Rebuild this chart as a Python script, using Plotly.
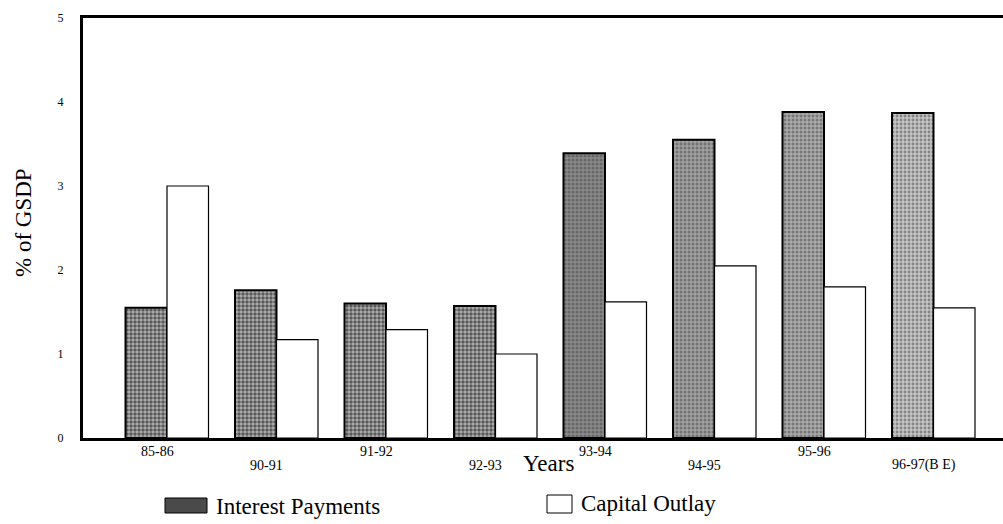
import plotly.graph_objects as go

# Interest payments and capital outlay as a share of GSDP
years = ["85-86", "90-91", "91-92", "92-93", "93-94", "94-95", "95-96", "96-97(B E)"]
interest_payments = [1.55, 1.76, 1.60, 1.57, 3.39, 3.55, 3.88, 3.87]
capital_outlay = [3.00, 1.17, 1.29, 1.00, 1.62, 2.05, 1.80, 1.55]
y_ticks = [0, 1, 2, 3, 4, 5]

# shading of the interest bars (darker for the earlier years)
interest_bg = ["#505050", "#505050", "#505050", "#505050", "#8a8a8a", "#a0a0a0", "#aaaaaa", "#c4c4c4"]
interest_fg = ["#0c0c0c", "#0c0c0c", "#0c0c0c", "#0c0c0c", "#262626", "#363636", "#444444", "#6c6c6c"]
interest_solidity = [0.6, 0.6, 0.6, 0.6, 0.5, 0.45, 0.45, 0.4]

SERIF = "Liberation Serif, Times New Roman, serif"
W, H = 1003, 524
L, R, T, B = 83, 0, 18, 86
PW, PH = W - L - R, H - T - B

xs = list(range(len(years)))

fig = go.Figure()
fig.add_trace(go.Bar(
    x=xs, y=interest_payments, name="Interest Payments",
    marker=dict(
        color=interest_bg,
        line=dict(color="black", width=2),
        pattern=dict(shape=".", bgcolor=interest_bg, fgcolor=interest_fg,
                     size=4, solidity=interest_solidity),
    ),
))
fig.add_trace(go.Bar(
    x=xs, y=capital_outlay, name="Capital Outlay",
    marker=dict(color="white", line=dict(color="black", width=1.2)),
))

# staggered year labels below the axis
annotations = []
for i, lab in enumerate(years):
    annotations.append(dict(
        x=i, y=0, xref="x", yref="paper", text=lab, showarrow=False,
        xanchor="center", yanchor="middle", xshift=-10,
        yshift=-13 if i % 2 == 0 else -27,
        font=dict(family=SERIF, size=14, color="black"),
    ))

# axis titles
annotations.append(dict(
    x=0, y=(H - B - 223) / PH, xref="paper", yref="paper", text="% of GSDP",
    showarrow=False, textangle=-90, xshift=-(L - 23), xanchor="center", yanchor="middle",
    font=dict(family=SERIF, size=23, color="black"),
))
annotations.append(dict(
    x=(548 - L) / PW, y=0, xref="paper", yref="paper", text="Years",
    showarrow=False, xanchor="center", yanchor="middle", yshift=-(463 - (H - B)),
    font=dict(family=SERIF, size=23, color="black"),
))

# legend entries
def px_x(p):
    return (p - L) / PW

def px_y(p):
    return (H - B - p) / PH

shapes = [
    dict(type="rect", xref="paper", yref="paper",
         x0=px_x(165), x1=px_x(207), y0=px_y(513), y1=px_y(498),
         fillcolor="#4a4a4a", line=dict(color="black", width=1)),
    dict(type="rect", xref="paper", yref="paper",
         x0=px_x(547), x1=px_x(572), y0=px_y(513), y1=px_y(495),
         fillcolor="white", line=dict(color="black", width=1)),
]
annotations.append(dict(
    x=px_x(214), y=px_y(506), xref="paper", yref="paper", text="Interest Payments",
    showarrow=False, xanchor="left", yanchor="middle",
    font=dict(family=SERIF, size=23, color="black"),
))
annotations.append(dict(
    x=px_x(579), y=px_y(504), xref="paper", yref="paper", text="Capital Outlay",
    showarrow=False, xanchor="left", yanchor="middle",
    font=dict(family=SERIF, size=23, color="black"),
))

fig.update_layout(
    width=W, height=H,
    margin=dict(l=L, r=R, t=T, b=B, pad=0),
    paper_bgcolor="white", plot_bgcolor="white",
    barmode="group", bargap=0.242, bargroupgap=0,
    showlegend=False,
    annotations=annotations, shapes=shapes,
    xaxis=dict(
        range=[-84 / 109.5, (W - R - 167) / 109.5],
        showticklabels=False, ticks="", showgrid=False, zeroline=False,
        showline=True, linecolor="black", linewidth=3, mirror=True,
    ),
    yaxis=dict(
        range=[0, 5], tickvals=y_ticks, ticks="", showgrid=False, zeroline=False,
        showline=True, linecolor="black", linewidth=3,
        ticklabelstandoff=14,
        tickfont=dict(family=SERIF, size=12, color="black"),
    ),
)

fig.write_html("out.html")
